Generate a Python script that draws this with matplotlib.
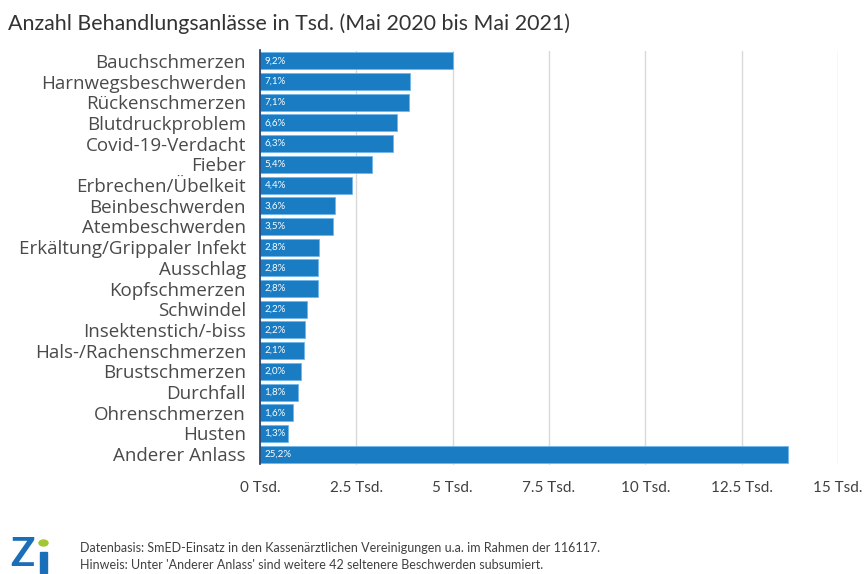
import matplotlib
matplotlib.use("Agg")
import matplotlib.pyplot as plt
from matplotlib.patches import Rectangle, Circle

plt.rcParams['font.family'] = ['Lato', 'DejaVu Sans']

categories = ["Bauchschmerzen", "Harnwegsbeschwerden", "Rückenschmerzen", "Blutdruckproblem",
              "Covid-19-Verdacht", "Fieber", "Erbrechen/Übelkeit", "Beinbeschwerden",
              "Atembeschwerden", "Erkältung/Grippaler Infekt", "Ausschlag", "Kopfschmerzen",
              "Schwindel", "Insektenstich/-biss", "Hals-/Rachenschmerzen", "Brustschmerzen",
              "Durchfall", "Ohrenschmerzen", "Husten", "Anderer Anlass"]
values = [5.01, 3.88, 3.87, 3.56, 3.45, 2.91, 2.39, 1.95, 1.90, 1.53, 1.51, 1.50,
          1.22, 1.17, 1.14, 1.06, 0.99, 0.86, 0.73, 13.71]
xticks = [0, 2.5, 5, 7.5, 10, 12.5, 15]
xticklabels = ["0 Tsd.", "2.5 Tsd.", "5 Tsd.", "7.5 Tsd.", "10 Tsd.", "12.5 Tsd.", "15 Tsd."]

total = sum(values)
pct_labels = [f"{v / total * 100:.1f}%".replace(".", ",") for v in values]

fig = plt.figure(figsize=(8.67, 5.74), dpi=100)
ax = fig.add_axes([260 / 867, 1 - 464.5 / 574, (838 - 260) / 867, (464.5 - 50.5) / 574])

y = list(range(len(categories)))
ax.barh(y, values, height=0.82, color="#1a7cc3", edgecolor="#6fb8ea", linewidth=0.6, zorder=3)
ax.set_ylim(len(categories) - 0.5, -0.5)
ax.set_xlim(0, 15)
ax.set_yticks(y)
ax.set_yticklabels(categories, fontsize=13.5, color="#4a4a4a", family=['Open Sans', 'DejaVu Sans'])
ax.set_xticks(xticks)
ax.set_xticklabels(xticklabels, fontsize=11, color="#404040")
ax.tick_params(axis="both", length=0)
ax.tick_params(axis="y", pad=10)
ax.tick_params(axis="x", pad=12)
ax.grid(axis="x", color="#d9d9d9", linewidth=1, zorder=0)
for s in ["top", "right", "bottom"]:
    ax.spines[s].set_visible(False)
ax.spines["left"].set_color("#203864")
ax.spines["left"].set_linewidth(1.2)
ax.spines["left"].set_zorder(4)

for yi, lab in zip(y, pct_labels):
    ax.text(0.12, yi, lab, color="white", fontsize=7, va="center", ha="left", zorder=5)

fig.text(8 / 867, 1 - 24 / 574, "Anzahl Behandlungsanlässe in Tsd. (Mai 2020 bis Mai 2021)",
         fontsize=15.4, color="#333333", va="center", ha="left")

# Logo
fig.text(10 / 867, 1 - 555 / 574, "Z", fontsize=29, fontweight="bold", color="#1a6fb8",
         va="center", ha="left")
fig.patches.append(Rectangle((40 / 867, 1 - 573 / 574), 7 / 867, 21 / 574,
                             transform=fig.transFigure, color="#1a6fb8", figure=fig))
fig.patches.append(Circle((43.5 / 867, 1 - 543 / 574), 4.5 / 867,
                          transform=fig.transFigure, color="#a3c634", figure=fig))

fig.text(80 / 867, 1 - 548 / 574,
         "Datenbasis: SmED-Einsatz in den Kassenärztlichen Vereinigungen u.a. im Rahmen der 116117.",
         fontsize=9, color="#404040", va="center", ha="left")
fig.text(80 / 867, 1 - 565 / 574,
         "Hinweis: Unter 'Anderer Anlass' sind weitere 42 seltenere Beschwerden subsumiert.",
         fontsize=9, color="#404040", va="center", ha="left")

fig.savefig("out.png", dpi=100, facecolor="white")
